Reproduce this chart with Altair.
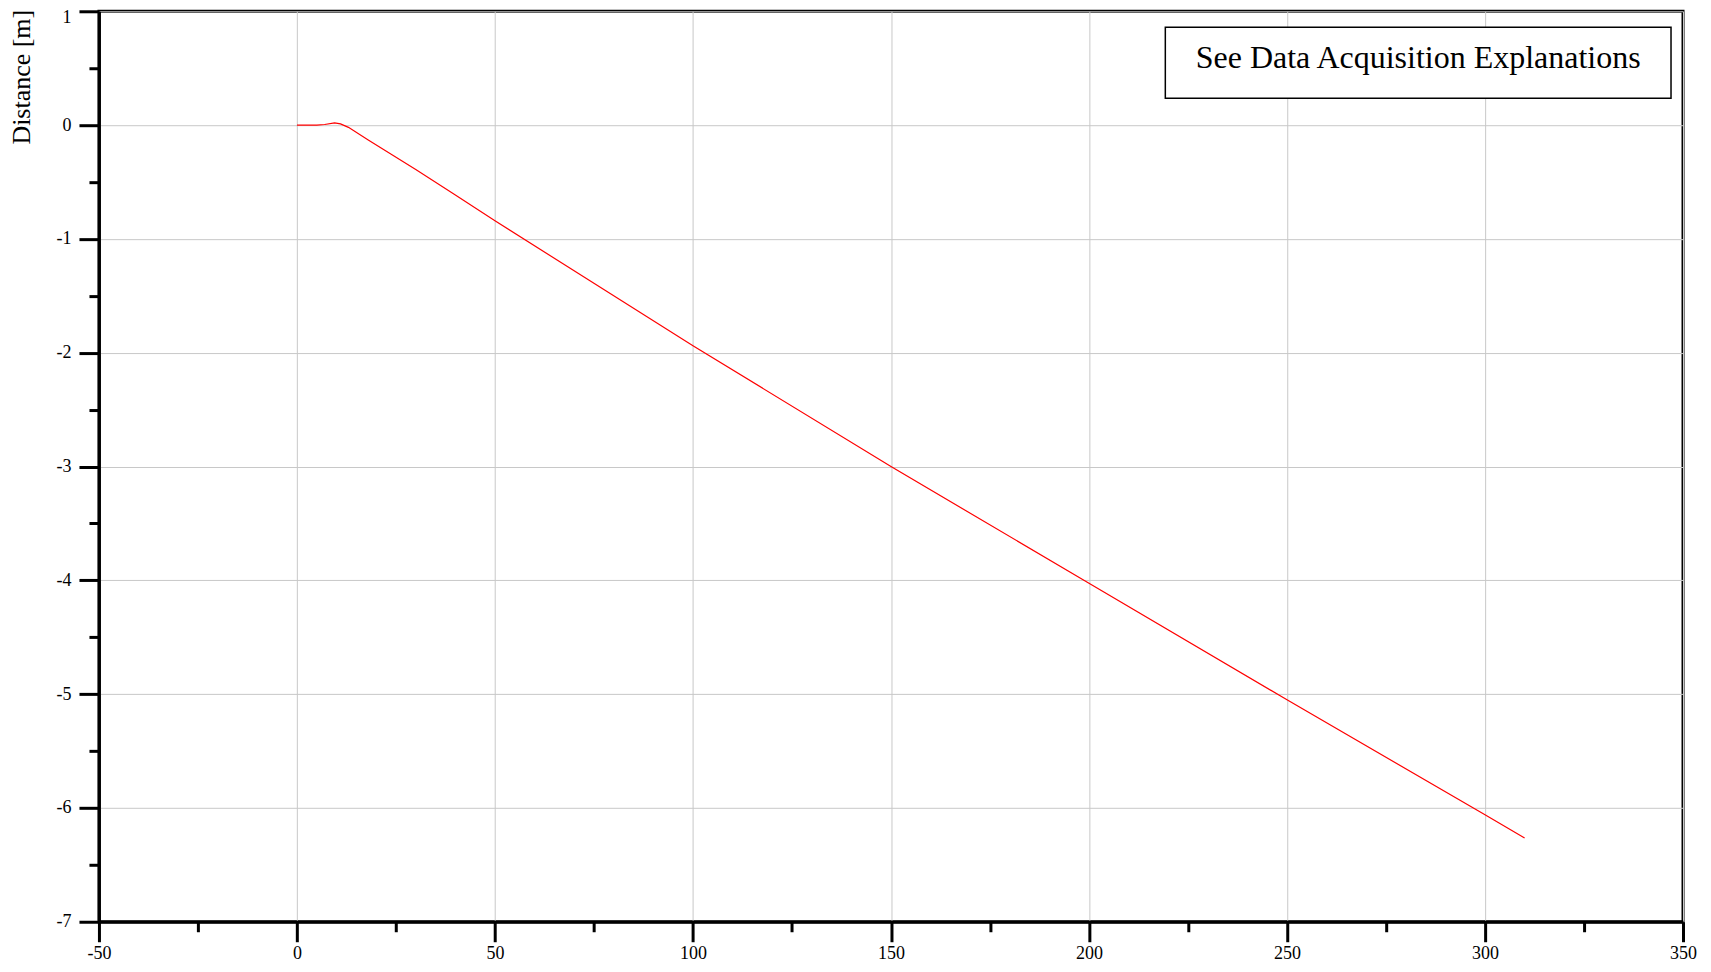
import altair as alt
import pandas as pd

# Data
time_vals = [0, 5, 7, 9.5, 11, 13, 18, 24, 30, 40, 50, 100, 150, 200, 250, 300, 310]
dist_vals = [0, 0, 0.005, 0.02, 0.01, -0.02, -0.13, -0.26, -0.39, -0.615, -0.841,
             -1.939, -3.0, -4.026, -5.05, -6.06, -6.265]

x_major = [-50, 0, 50, 100, 150, 200, 250, 300, 350]
x_minor = [-25, 25, 75, 125, 175, 225, 275, 325]
y_major = [-7, -6, -5, -4, -3, -2, -1, 0, 1]
y_minor = [-6.5, -5.5, -4.5, -3.5, -2.5, -1.5, -0.5, 0.5]

legend_text = ["See Data Acquisition Explanations"]

FONT = "Liberation Serif"

df = pd.DataFrame({"t": time_vals, "d": dist_vals})

xscale = alt.Scale(domain=[-50, 350], nice=False, zero=False)
yscale = alt.Scale(domain=[-7, 1], nice=False, zero=False)

major_common = dict(
    grid=True, gridColor="#c8c8c8", gridWidth=1,
    domain=True, domainColor="black", domainWidth=3,
    ticks=True, tickColor="black", tickWidth=3, tickSize=20,
    labelFont=FONT, labelFontSize=18, labelColor="black",
    labelFlush=False, labelOverlap=False,
    labelExpr="'' + datum.value",
)

line = alt.Chart(df).mark_line(color="#ff0000", strokeWidth=1.2).encode(
    x=alt.X("t:Q", scale=xscale,
            axis=alt.Axis(values=x_major, title=None, orient="bottom",
                          labelPadding=3, **major_common)),
    y=alt.Y("d:Q", scale=yscale,
            axis=alt.Axis(values=y_major, orient="left", labelPadding=8,
                          labelOffset={"condition": {"test": "datum.value == 1", "value": 6}, "value": 0},
                          title="Distance [m]", titleFont=FONT, titleFontSize=26,
                          titleFontWeight="normal", titleColor="black",
                          titleAngle=270, titleAlign="right",
                          titleBaseline="alphabetic", titleX=-69, titleY=-2,
                          **major_common)),
)

minor_common = dict(
    grid=False, domain=False, labels=False, title=None,
    ticks=True, tickColor="black", tickWidth=3, tickSize=10,
)

minor = alt.Chart(df).mark_line(opacity=0).encode(
    x=alt.X("t:Q", scale=xscale,
            axis=alt.Axis(values=x_minor, orient="bottom", **minor_common)),
    y=alt.Y("d:Q", scale=yscale,
            axis=alt.Axis(values=y_minor, orient="left", **minor_common)),
)

leg_df = pd.DataFrame({"label": legend_text})
box = alt.Chart(leg_df).mark_rect(fill="white", stroke="black", strokeWidth=1.5).encode(
    x=alt.value(1067), x2=alt.value(1573), y=alt.value(16), y2=alt.value(87)
)
txt = alt.Chart(leg_df).mark_text(font=FONT, fontSize=32, color="black",
                                   align="center", baseline="middle").encode(
    x=alt.value(1320), y=alt.value(47), text="label:N"
)

chart = alt.layer(line, minor, box, txt).resolve_axis(
    x="independent", y="independent"
).properties(
    width=1585, height=911,
    autosize=alt.AutoSizeParams(type="none"),
    padding={"left": 91, "top": 3, "right": 20, "bottom": 41},
).configure(
    background="white"
).configure_view(
    stroke="black", strokeWidth=3
)

chart.save("out.html", embed_options={"renderer": "svg", "actions": False})
